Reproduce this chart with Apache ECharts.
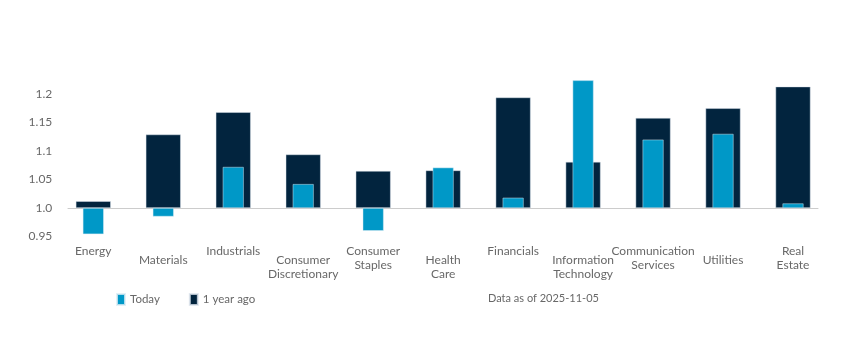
<!DOCTYPE html>
<html>
<head>
<meta charset="utf-8">
<script src="https://cdn.jsdelivr.net/npm/echarts@6/dist/echarts.min.js"></script>
<style>html,body{margin:0;padding:0;background:#fff;}#c{width:857px;height:339px;}</style>
</head>
<body>
<div id="c"></div>
<script>
const categories = ['Energy', 'Materials', 'Industrials', 'Consumer\nDiscretionary', 'Consumer\nStaples', 'Health\nCare', 'Financials', 'Information\nTechnology', 'Communication\nServices', 'Utilities', 'Real\nEstate'];
const today = [0.954, 0.985, 1.072, 1.042, 0.960, 1.071, 1.018, 1.224, 1.120, 1.130, 1.008];
const yearAgo = [1.012, 1.129, 1.168, 1.094, 1.065, 1.066, 1.194, 1.081, 1.158, 1.175, 1.213];
const yTicks = [0.95, 1.0, 1.05, 1.1, 1.15, 1.2];
const base = 1.0;
const noteText = 'Data as of 2025-11-05';

const FONT = 'Lato';
const GRAY = '#686868';
const delta = arr => arr.map(v => +(v - base).toFixed(4));
const fmtY = v => {
  const x = Math.round((base + v) * 100) / 100;
  if (!yTicks.some(t => Math.abs(t - x) < 1e-9)) return '';
  return x === 1 ? '1.0' : String(x);
};

const chart = echarts.init(document.getElementById('c'), null, {renderer: 'canvas'});
chart.setOption({
  animation: false,
  backgroundColor: '#ffffff',
  textStyle: {fontFamily: FONT},
  title: {
    text: noteText, left: 483, top: 288,
    textStyle: {fontSize: 11, fontWeight: 'normal', color: GRAY, fontFamily: FONT}
  },
  legend: {
    left: 111, top: 288, itemWidth: 8, itemHeight: 11, itemGap: 29, icon: 'rect',
    textStyle: {fontSize: 11.5, color: GRAY, fontFamily: FONT},
    data: ['Today', '1 year ago']
  },
  grid: [
    {left: 58.3, right: 857 - 828, top: 65.5, bottom: 102.5},
    {left: 68, right: 857 - 818, top: 65.5, bottom: 102.5}
  ],
  xAxis: [
    {
      type: 'category', gridIndex: 0, position: 'bottom', data: categories,
      axisLine: {show: false}, axisTick: {show: false},
      axisLabel: {
        interval: 0, margin: 8, fontSize: 12, color: GRAY, lineHeight: 13.5, fontFamily: FONT,
        formatter: (v, i) => (i % 2 === 0 ? v : '')
      }
    },
    {
      type: 'category', gridIndex: 0, position: 'bottom', data: categories,
      axisLine: {show: false}, axisTick: {show: false},
      axisLabel: {
        interval: 0, margin: 17, fontSize: 12, color: GRAY, lineHeight: 13.5, fontFamily: FONT,
        formatter: (v, i) => (i % 2 === 1 ? v : '')
      }
    },
    {
      type: 'category', gridIndex: 1, data: categories,
      axisLine: {show: true, onZero: true, lineStyle: {color: '#cccccc', width: 1}},
      axisTick: {show: false}, axisLabel: {show: false}
    }
  ],
  yAxis: [
    {
      type: 'value', gridIndex: 0, min: -0.05, max: 0.25, interval: 0.05,
      axisLine: {show: false}, axisTick: {show: false}, splitLine: {show: false},
      axisLabel: {margin: 6, fontSize: 12, color: GRAY, fontFamily: FONT, formatter: fmtY}
    },
    {
      type: 'value', gridIndex: 1, min: -0.05, max: 0.25, interval: 0.05, show: false,
      axisLine: {show: false}, splitLine: {show: false}
    }
  ],
  series: [
    {
      name: '1 year ago', type: 'bar', xAxisIndex: 0, yAxisIndex: 0,
      data: delta(yearAgo), barWidth: 35,
      itemStyle: {color: '#02243e', borderColor: 'rgba(220,228,236,0.8)', borderWidth: 0.6},
      z: 2
    },
    {
      name: 'Today', type: 'bar', xAxisIndex: 1, yAxisIndex: 0,
      data: delta(today), barWidth: 21,
      itemStyle: {color: '#0098c7', borderColor: 'rgba(220,236,244,0.8)', borderWidth: 0.6},
      z: 3
    }
  ]
});
</script>
</body>
</html>
